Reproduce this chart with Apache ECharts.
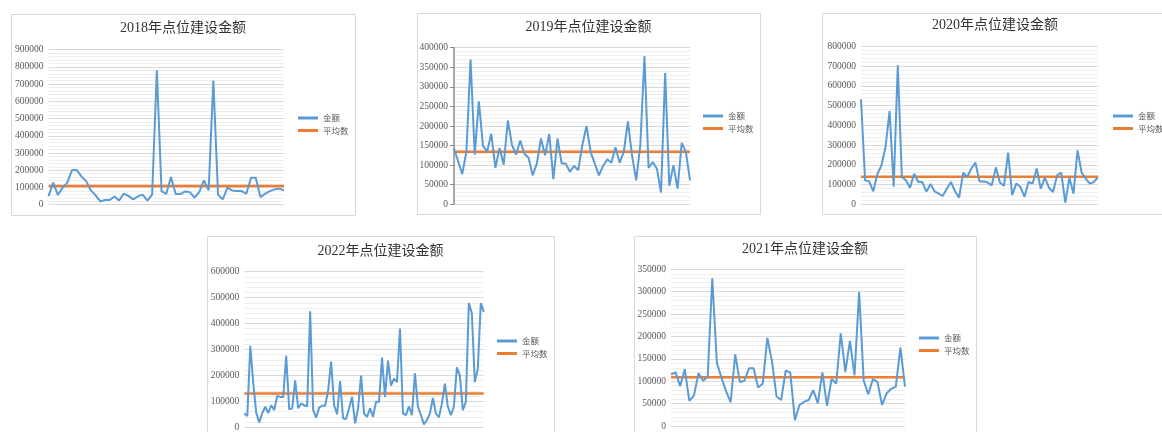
<!DOCTYPE html>
<html>
<head>
<meta charset="utf-8">
<script src="https://cdn.jsdelivr.net/npm/echarts@6/dist/echarts.min.js"></script>
<style>
html,body{margin:0;padding:0;background:#fff;}
#c{width:1162px;height:432px;}
</style>
</head>
<body>
<div id="c"></div>
<script>
// ---- data ----
const titles = ['2018年点位建设金额', '2019年点位建设金额', '2020年点位建设金额', '2022年点位建设金额', '2021年点位建设金额'];
const seriesNames = ['金额', '平均数'];

const amount2018 = [50000,128000,56000,99000,128000,201000,201000,164000,137000,83000,54000,19000,27000,27000,48000,25000,64000,50000,31000,48000,58000,23000,58000,780000,79000,62000,161000,62000,62000,77000,73000,41000,73000,141000,83000,721000,58000,31000,99000,83000,79000,79000,64000,157000,157000,44000,64000,79000,89000,93000,83000];
const avg2018 = 108000;

const amount2019 = [142000,110000,77000,135000,370000,127000,263000,149000,135000,180000,93000,144000,101000,214000,152000,127000,163000,129000,119000,74000,104000,168000,125000,180000,64000,168000,104000,104000,83000,98000,87000,151000,200000,134000,104000,74000,98000,115000,106000,146000,106000,134000,212000,125000,61000,151000,379000,93000,108000,91000,30000,335000,47000,100000,40000,157000,134000,61000];
const avg2019 = 134000;

const amount2020 = [532000,122000,116000,66000,152000,197000,290000,473000,89000,704000,138000,122000,84000,155000,113000,113000,64000,103000,66000,54000,42000,79000,113000,66000,34000,160000,138000,181000,211000,116000,116000,110000,96000,187000,110000,93000,262000,46000,105000,88000,37000,113000,105000,181000,79000,135000,84000,62000,147000,160000,8000,135000,54000,273000,160000,130000,105000,113000,138000];
const avg2020 = 140000;

const amount2022 = [53000,43000,314000,170000,55000,19000,55000,79000,55000,85000,66000,121000,117000,117000,276000,69000,73000,181000,73000,92000,85000,81000,447000,66000,37000,76000,83000,83000,142000,253000,85000,50000,178000,34000,32000,73000,117000,15000,73000,199000,53000,40000,73000,40000,98000,98000,269000,117000,257000,161000,187000,174000,381000,53000,47000,81000,47000,208000,79000,47000,11000,28000,53000,113000,53000,38000,92000,168000,79000,47000,79000,231000,200000,66000,98000,479000,441000,174000,225000,479000,445000];
const avg2022 = 130000;

const amount2021 = [115000,120000,89000,127000,56000,68000,118000,101000,110000,330000,141000,108000,78000,53000,160000,98000,101000,129000,129000,86000,95000,197000,145000,66000,58000,124000,119000,13000,47000,54000,58000,80000,51000,120000,45000,105000,95000,207000,121000,190000,113000,299000,101000,71000,105000,98000,47000,73000,83000,88000,175000,88000];
const avg2021 = 109000;

// y-axis scales (tick labels)
const yMax = [900000, 400000, 800000, 600000, 350000];
const yStep = [100000, 50000, 100000, 100000, 50000];

// ---- layout ----
const amounts = [amount2018, amount2019, amount2020, amount2022, amount2021];
const avgs = [avg2018, avg2019, avg2020, avg2022, avg2021];
const panels = [
  {x:11, y:14, w:344, h:201},
  {x:417, y:13, w:343, h:201},
  {x:822, y:13, w:346, h:201},
  {x:207, y:236, w:347, h:210},
  {x:634, y:236, w:342, h:210}
];
const titlePos = [[183,28.5],[588.5,27],[995,25.5],[380.5,251],[805,249]];
const grids = [
  {left:48.5, top:49.7, width:235.5, height:155},
  {left:454, top:47.7, width:236, height:156.6},
  {left:861, top:46.3, width:237, height:158},
  {left:244.3, top:271.7, width:239.5, height:157.3},
  {left:671, top:269.3, width:234, height:156.7}
];
const legendPos = [[298,112],[703,110],[1113,110],[497,335],[919,332]];

const BLUE = '#5B9BD5', ORANGE = '#ED7D31';
const serif = '"Liberation Serif", "Noto Sans CJK SC", serif';

const graphic = [];
panels.forEach(p => graphic.push({
  type:'rect', silent:true,
  shape:{x:p.x+0.5, y:p.y+0.5, width:p.w, height:p.h},
  style:{fill:'none', stroke:'#d9d9d9', lineWidth:1}
}));
titles.forEach((t,i) => graphic.push({
  type:'text', silent:true, x:titlePos[i][0], y:titlePos[i][1],
  style:{text:t, align:'center', verticalAlign:'middle', fill:'#333333',
    fontSize:14, fontFamily:serif}
}));

const option = {
  animation:false,
  backgroundColor:'#fff',
  graphic: graphic,
  legend: legendPos.map(lp => ({
    orient:'vertical', left:lp[0], top:lp[1], padding:0, itemGap:0.5,
    itemWidth:20, itemHeight:3, icon:'rect',
    data: seriesNames,
    textStyle:{fontSize:8.5, color:'#595959', lineHeight:12, fontFamily:'"Noto Sans CJK SC", sans-serif'},
    selectedMode:false
  })),
  grid: grids,
  xAxis: amounts.map((a,i) => ({
    type:'category', gridIndex:i, boundaryGap:false,
    data: a.map((_,k) => String(k+1)),
    axisLine:{show:false}, axisTick:{show:false}, axisLabel:{show:false}, splitLine:{show:false}
  })),
  yAxis: amounts.map((a,i) => ({
    type:'value', gridIndex:i, min:0, max:yMax[i], interval:yStep[i],
    axisLine:{show:i===1, lineStyle:{color:'#8c8c8c', width:1.5}},
    axisTick:{show:i===1, length:4, lineStyle:{color:'#8c8c8c'}},
    axisLabel:{fontSize:9.5, color:'#595959', margin:i===1?6:5, fontFamily:serif,
      formatter: v => String(v)},
    splitLine:{lineStyle:{color:'#d9d9d9', width:1}},
    minorTick:{show:false, splitNumber:5},
    minorSplitLine:{show:true, lineStyle:{color:'#eeeeee', width:1}}
  })),
  series: []
};
amounts.forEach((a,i) => {
  option.series.push({
    name:'金额', type:'line', xAxisIndex:i, yAxisIndex:i, data:a,
    showSymbol:false, symbol:'none', lineStyle:{color:BLUE, width:2}, itemStyle:{color:BLUE}, z:3
  });
  option.series.push({
    name:'平均数', type:'line', xAxisIndex:i, yAxisIndex:i, data:a.map(() => avgs[i]),
    showSymbol:false, symbol:'none', lineStyle:{color:ORANGE, width:2.5}, itemStyle:{color:ORANGE}, z:2
  });
});

const chart = echarts.init(document.getElementById('c'), null, {renderer:'canvas'});
chart.setOption(option);
</script>
</body>
</html>
